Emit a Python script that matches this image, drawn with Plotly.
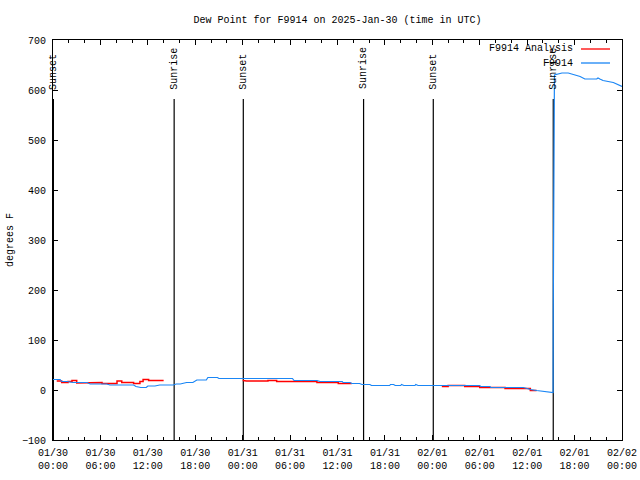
import plotly.graph_objects as go

# ---- data (hours since 2025-01-30 00:00 UTC) ----
obs_hours = [0.0, 0.9, 1.1, 1.8, 2.5, 4.3, 4.7, 6.8, 7.2, 10.2, 10.5, 11.1, 11.8, 12.0, 12.7, 12.9,
             13.5, 15.2, 15.6, 16.1, 16.9, 17.7, 18.2, 19.4, 19.6, 20.8, 21.0, 24.0, 24.2, 29.6,
             29.7, 30.3, 30.5, 33.4, 33.8, 36.6, 36.7, 37.6, 37.8, 38.8, 39.1, 40.1, 40.3, 42.6,
             42.7, 43.1, 43.3, 44.0, 44.1, 44.4, 45.8, 45.9, 46.2, 49.0, 54.0, 54.1, 55.3, 55.4,
             59.5, 60.0, 60.4, 61.2, 62.0, 63.0, 63.28, 63.30, 63.45, 64.4, 65.2, 66.7, 67.3,
             68.8, 68.96, 69.2, 69.6, 70.9, 71.7, 72.0]
obs_dew = [21, 21, 17, 17, 15, 15, 12, 12, 10, 10, 7, 5, 5, 8, 8, 8,
           10, 10, 12, 12, 15, 15, 20, 20, 25, 25, 23, 23, 22, 22,
           23, 23, 19, 19, 17, 17, 15, 15, 13, 13, 11, 11, 9, 9,
           11, 11, 9, 9, 11, 9, 9, 11, 9, 9, 9, 7, 7, 5,
           5, 3, 1, -1, -3, -5, -5, 155, 630, 634, 634, 627, 622,
           622, 624, 622, 619, 615, 610, 607]

ana_hours = [0.47, 1.1, 1.1, 1.9, 1.9, 2.4, 2.4, 3.0, 3.0, 3.6, 3.6, 6.2, 6.2, 8.1, 8.1, 8.7,
             8.7, 10.2, 10.2, 11.0, 11.0, 11.4, 11.4, 12.1, 12.1, 14.0, None,
             24.0, 24.5, 27.2, 27.2, 28.3, 28.3, 33.4, 33.4, 34.2, 34.2, 36.1, 36.1, 37.8, None,
             49.2, 50.0, 50.0, 52.1, 52.1, 54.0, 54.0, 55.3, 57.2, 57.2, 59.5, 59.5, 60.4,
             60.4, 61.2]
ana_dew = [18, 18, 15, 15, 17, 17, 19, 19, 14, 14, 15, 15, 13, 13, 18, 18,
           15, 15, 13, 13, 17, 17, 21, 21, 19, 19, None,
           19, 18, 18, 19, 19, 17, 17, 15, 15, 15, 15, 13, 13, None,
           7, 7, 9, 9, 7, 7, 5, 5, 5, 3, 3, 3, 3,
           -1, -1]

sun_events = ["Sunset", "Sunrise", "Sunset", "Sunrise", "Sunset", "Sunrise"]
sun_hours = [0.05, 15.33, 24.08, 39.3, 48.12, 63.3]

tick_hours = [0, 6, 12, 18, 24, 30, 36, 42, 48, 54, 60, 66, 72]
tick_labels = ["01/30<br>00:00", "01/30<br>06:00", "01/30<br>12:00", "01/30<br>18:00",
               "01/31<br>00:00", "01/31<br>06:00", "01/31<br>12:00", "01/31<br>18:00",
               "02/01<br>00:00", "02/01<br>06:00", "02/01<br>12:00", "02/01<br>18:00",
               "02/02<br>00:00"]

series_names = ["F9914 Analysis", "F9914"]
series_colors = ["#ff0000", "#1a86f5"]

FONT = "Liberation Mono"

fig = go.Figure()
fig.add_trace(go.Scatter(x=ana_hours, y=ana_dew, mode="lines", name=series_names[0],
                         line=dict(color=series_colors[0], width=1.5), connectgaps=False,
                         showlegend=False))
fig.add_trace(go.Scatter(x=obs_hours, y=obs_dew, mode="lines", name=series_names[1],
                         line=dict(color=series_colors[1], width=1.2), showlegend=False))

shapes = []
annotations = []
for name, h in zip(sun_events, sun_hours):
    shapes.append(dict(type="line", xref="x", yref="y", x0=h, x1=h, y0=-100, y1=582,
                       line=dict(color="black", width=1.2), layer="below"))
    annotations.append(dict(x=h, y=597, xref="x", yref="y", text=name, textangle=-90,
                            showarrow=False, xanchor="center", yanchor="bottom",
                            font=dict(family=FONT, size=10, color="black")))

# legend (gnuplot style: text then sample)
W, H = 640, 480
L, R, T, B = 53, 18, 40, 40
pw, ph = W - L - R, H - T - B
def px(x):
    return (x - L) / pw
def py(y):
    return 1 - (y - T) / ph

for i, (nm, col) in enumerate(zip(series_names, series_colors)):
    yy = 49 + 14 * i
    annotations.append(dict(x=px(575), y=py(yy), xref="paper", yref="paper", text=nm,
                            showarrow=False, xanchor="right", yanchor="middle",
                            font=dict(family=FONT, size=10, color="black")))
    shapes.append(dict(type="line", xref="paper", yref="paper", x0=px(581), x1=px(610),
                       y0=py(yy), y1=py(yy), line=dict(color=col, width=1.3)))

annotations.append(dict(x=px(10), y=0.5, xref="paper", yref="paper", text="degrees F",
                        textangle=-90, showarrow=False, xanchor="center", yanchor="middle",
                        font=dict(family=FONT, size=10, color="black")))

fig.update_layout(
    width=W, height=H,
    margin=dict(l=L, r=R, t=T, b=B, autoexpand=False),
    paper_bgcolor="white", plot_bgcolor="white",
    font=dict(family=FONT, size=10, color="black"),
    title=dict(text="Dew Point for F9914 on 2025-Jan-30 (time in UTC)", x=0.5, xref="paper",
               y=1 - 19 / H, yref="container", xanchor="center", yanchor="middle",
               font=dict(family=FONT, size=10, color="black")),
    shapes=shapes, annotations=annotations, showlegend=False,
)
fig.update_xaxes(range=[0, 72], tickvals=tick_hours, ticktext=tick_labels,
                 showgrid=False, zeroline=False, showline=True, linecolor="black", linewidth=1,
                 mirror="ticks", ticks="inside", ticklen=5, tickcolor="black", automargin=False,
                 ticklabelstandoff=3,
                 minor=dict(ticks="inside", dtick=2, tick0=0, ticklen=3, tickcolor="black"),
                 tickfont=dict(family=FONT, size=10, color="black"))
fig.update_yaxes(range=[-100, 700], tickvals=list(range(-100, 701, 100)),
                 showgrid=False, zeroline=False, showline=True, linecolor="black", linewidth=1,
                 mirror="ticks", ticks="inside", ticklen=5, tickcolor="black", automargin=False,
                 ticklabelstandoff=4,
                 tickfont=dict(family=FONT, size=10, color="black"))

fig.write_html("out.html")
